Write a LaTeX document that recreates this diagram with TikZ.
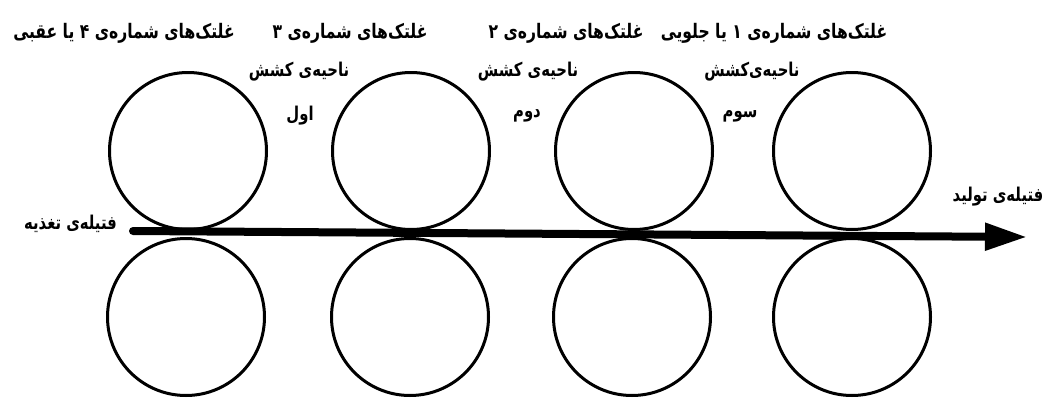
\documentclass[tikz,border=0pt]{standalone}
\usepackage{fontspec}
\usetikzlibrary{arrows.meta}
\newfontfamily\fa[Script=Arabic,FakeStretch=0.78]{DejaVu Sans}
\TeXXeTstate=1
\begin{document}
\begin{tikzpicture}[x=1pt,y=-1pt,
  roll/.style={circle,draw,line width=3pt,minimum size=157pt,inner sep=0pt},
  toplbl/.style={inner sep=1pt,font=\fa\bfseries\fontsize{20}{22}\selectfont},
  zone/.style={fill=white,inner sep=3pt,font=\fa\bfseries\fontsize{19}{21}\selectfont},
  zone2/.style={inner sep=1pt,font=\fa\bfseries\fontsize{19}{21}\selectfont},
  flow/.style={line width=8pt,line cap=round,-{Triangle[length=42pt,width=26pt]}}]
\useasboundingbox[fill=white] (0,0) rectangle (1058,399);
% rolls
\node[roll] (u1) at (188,151) {};
\node[roll] (u2) at (411,151) {};
\node[roll] (u3) at (634,151) {};
\node[roll] (u4) at (852,151) {};
\node[roll] (d1) at (186,317) {};
\node[roll] (d2) at (410,317) {};
\node[roll] (d3) at (632,317) {};
\node[roll] (d4) at (852,317) {};
% strand
\coordinate (feed) at (133,231);
\coordinate (out) at (1027,237);
\draw[flow] (feed) -- (out);
\node[zone2,anchor=east] (lf) at (118,224) {\beginR فتیله^^^^200cی تغذیه\endR};
\node[zone2] (lo) at (998,197) {\beginR فتیله^^^^200cی تولید\endR};
% roller labels
\node[toplbl] (t4) at (124,33) {\beginR غلتک^^^^200cهای شماره^^^^200cی ۴ یا عقبی\endR};
\node[toplbl] (t3) at (350,33) {\beginR غلتک^^^^200cهای شماره^^^^200cی ۳\endR};
\node[toplbl] (t2) at (566,33) {\beginR غلتک^^^^200cهای شماره^^^^200cی ۲\endR};
\node[toplbl] (t1) at (774,33) {\beginR غلتک^^^^200cهای شماره^^^^200cی ۱ یا جلویی\endR};
% zones
\node[zone] (z1) at (299,72) {\beginR ناحیه^^^^200cی کشش\endR};
\node[zone2] (z1b) at (300,116) {\beginR اول\endR};
\node[zone] (z2) at (528,72) {\beginR ناحیه^^^^200cی کشش\endR};
\node[zone2] (z2b) at (527,116) {\beginR دوم\endR};
\node[zone] (z3) at (752,72) {\beginR ناحیه^^^^200cی^^^^200cکشش\endR};
\node[zone2] (z3b) at (740,116) {\beginR سوم\endR};
\end{tikzpicture}
\end{document}
